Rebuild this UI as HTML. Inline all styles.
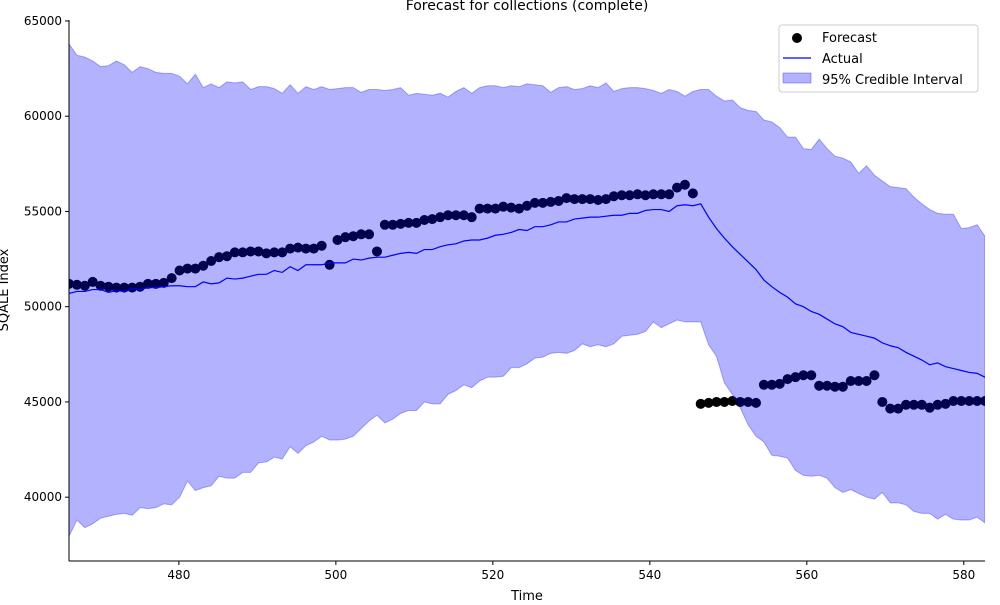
<!DOCTYPE html>
<html><head><meta charset="utf-8"><style>
body{margin:0;background:#fff;font-family:"Liberation Sans","DejaVu Sans",sans-serif}
svg text{font-family:"DejaVu Sans","Liberation Sans",sans-serif;fill:#000}
</style></head><body>
<svg id="c" width="1000" height="600" xmlns="http://www.w3.org/2000/svg">
<text x="527" y="10" text-anchor="middle" font-size="14">Forecast for collections (complete)</text>
<g id="plot"></g>
<text x="527" y="600" text-anchor="middle" font-size="13">Time</text>
<text transform="translate(8,290) rotate(-90)" text-anchor="middle" font-size="13">SQALE Index</text>
<g>
<rect x="779" y="25" width="199" height="67" rx="3" fill="#fff" fill-opacity="0.8" stroke="#ccc"/>
<circle cx="797" cy="38" r="5" fill="#000"/>
<text x="822" y="42" font-size="13">Forecast</text>
<line x1="783" y1="58" x2="811" y2="58" stroke="#0000ff" stroke-width="1.3"/>
<text x="822" y="63" font-size="13">Actual</text>
<rect x="783" y="73" width="28" height="10" fill="#0000ff" fill-opacity="0.3" stroke="#0000ff" stroke-opacity="0.3"/>
<text x="822" y="84" font-size="13">95% Credible Interval</text>
</g>
</svg>
<script>
const startT = 466;
const endT = 582.7;
const forecast = [51200,51150,51100,51300,51100,51050,51000,51000,51000,51050,51200,51200,51250,51500,51900,52000,52000,52150,52400,52600,52650,52850,52850,52900,52900,52800,52850,52850,53050,53100,53050,53050,53200,52200,53500,53650,53700,53800,53800,52900,54300,54300,54350,54400,54400,54550,54600,54700,54800,54800,54800,54700,55150,55150,55150,55250,55200,55150,55300,55450,55450,55500,55550,55700,55650,55650,55650,55600,55650,55800,55850,55850,55900,55850,55900,55900,55900,56250,56400,55950,44900,44950,45000,45000,45050,45000,45000,44950,45900,45900,45950,46200,46300,46400,46400,45850,45850,45800,45800,46100,46100,46100,46400,45000,44650,44650,44850,44850,44850,44700,44850,44900,45050,45050,45050,45050,45050];
const actual = [50700,50800,50800,50900,50900,50750,50850,50800,50950,50900,51000,51000,51050,51100,51100,51050,51050,51300,51200,51250,51500,51450,51500,51600,51700,51700,51900,51800,52100,51900,52200,52200,52200,52300,52300,52300,52500,52450,52550,52600,52600,52700,52800,52850,52800,53000,53000,53150,53250,53300,53450,53500,53500,53600,53750,53800,53900,54050,54000,54200,54200,54300,54450,54450,54600,54650,54700,54700,54750,54800,54800,54900,54900,55050,55100,55100,55000,55300,55350,55300,55400,54700,54100,53600,53150,52750,52350,51950,51400,51050,50750,50500,50150,50000,49750,49600,49350,49100,48950,48650,48550,48450,48350,48100,47950,47850,47600,47400,47200,46950,47050,46850,46750,46650,46550,46500,46300];
const upper = [63800,63200,63100,62900,62600,62650,62900,62700,62300,62600,62500,62300,62250,62250,62100,61700,62200,61500,61700,61500,61800,61750,61800,61400,61550,61550,61450,61200,61650,61200,61550,61400,61550,61400,61450,61500,61500,61250,61400,61400,61350,61400,61500,61100,61200,61150,61100,61200,61000,61300,61500,61200,61500,61600,61600,61500,61600,61550,61700,61650,61600,61250,61500,61550,61400,61450,61600,61500,61750,61300,61450,61500,61500,61450,61350,61200,61400,61300,61050,61300,61400,61400,61050,60800,60850,60450,60300,60250,59800,59700,59400,58900,58900,58300,58250,58800,58300,57900,57800,57600,57000,57400,56900,56600,56300,56250,56200,55750,55400,55100,54900,54850,54850,54100,54150,54300,53700];
const lower = [37950,38800,38400,38600,38900,39000,39100,39150,39050,39450,39400,39450,39650,39600,40000,40850,40350,40500,40600,41100,41000,41000,41300,41300,41800,41850,42100,42000,42650,42300,42700,42900,43200,43000,43000,43050,43200,43600,44000,44300,43900,44100,44400,44550,44550,45000,44900,44900,45400,45600,45900,45750,46100,46300,46300,46350,46800,46800,47000,47300,47350,47550,47600,47550,47700,48050,47900,48000,47900,48050,48450,48500,48550,48700,49200,48900,49100,49300,49200,49200,49200,48000,47400,46000,45400,44700,43800,43200,42900,42200,42150,42050,41400,41150,41100,41150,41000,40500,40250,40400,40200,40000,39900,40250,39700,39700,39600,39250,39150,39150,38850,39100,38850,38800,38800,38950,38650];
const xTicks = [480,500,520,540,560,580];
const yTicks = [40000,45000,50000,55000,60000,65000];

const L=69,R=985,T=20,B=561, X0=466, X1=582.7, Y0=36650, Y1=65050;
const step=(endT-startT)/(forecast.length-1);
const tAt=i=>startT+i*step;
const sx=v=>L+(v-X0)/(X1-X0)*(R-L);
const sy=v=>B-(v-Y0)/(Y1-Y0)*(B-T);
const NS='http://www.w3.org/2000/svg';
const g=document.getElementById('plot');
function mk(tag,attrs){const e=document.createElementNS(NS,tag);for(const k in attrs)e.setAttribute(k,attrs[k]);g.appendChild(e);return e;}
const clip=mk('clipPath',{id:'cp'});
const cr=document.createElementNS(NS,'rect');cr.setAttribute('x',L);cr.setAttribute('y',T);cr.setAttribute('width',R-L);cr.setAttribute('height',B-T);clip.appendChild(cr);
const inner=mk('g',{'clip-path':'url(#cp)'});
function mi(tag,attrs){const e=document.createElementNS(NS,tag);for(const k in attrs)e.setAttribute(k,attrs[k]);inner.appendChild(e);return e;}
forecast.forEach((v,i)=>{
  const c=mi('circle',{cx:sx(tAt(i)),cy:sy(v),r:5,fill:'#000'});
  
  
});
let d='';
upper.forEach((v,i)=>{d+=(i?'L':'M')+sx(tAt(i))+','+sy(v);});
for(let i=lower.length-1;i>=0;i--)d+='L'+sx(tAt(i))+','+sy(lower[i]);
const band=mi('path',{d:d+'Z',fill:'#0000ff','fill-opacity':0.3,stroke:'#0000ff','stroke-opacity':0.3});


const ln=mi('polyline',{points:actual.map((v,i)=>sx(tAt(i))+','+sy(v)).join(' '),fill:'none',stroke:'#0000ff','stroke-width':1.2});


const ax1=mk('line',{x1:L,y1:T,x2:L,y2:B,stroke:'#000','stroke-width':1});


const ax2=mk('line',{x1:L,y1:B,x2:R,y2:B,stroke:'#000','stroke-width':1});


xTicks.forEach(t=>{
  mk('line',{x1:sx(t),y1:B,x2:sx(t),y2:B+4,stroke:'#000'});
  const tx=mk('text',{x:sx(t),y:B+18,'text-anchor':'middle','font-size':12});
  tx.textContent=t;
  
  
});
yTicks.forEach(t=>{
  mk('line',{x1:L-4,y1:sy(t),x2:L,y2:sy(t),stroke:'#000'});
  const tx=mk('text',{x:L-7,y:sy(t)+4,'text-anchor':'end','font-size':12});
  tx.textContent=t;
  
  
});
</script>
</body></html>
